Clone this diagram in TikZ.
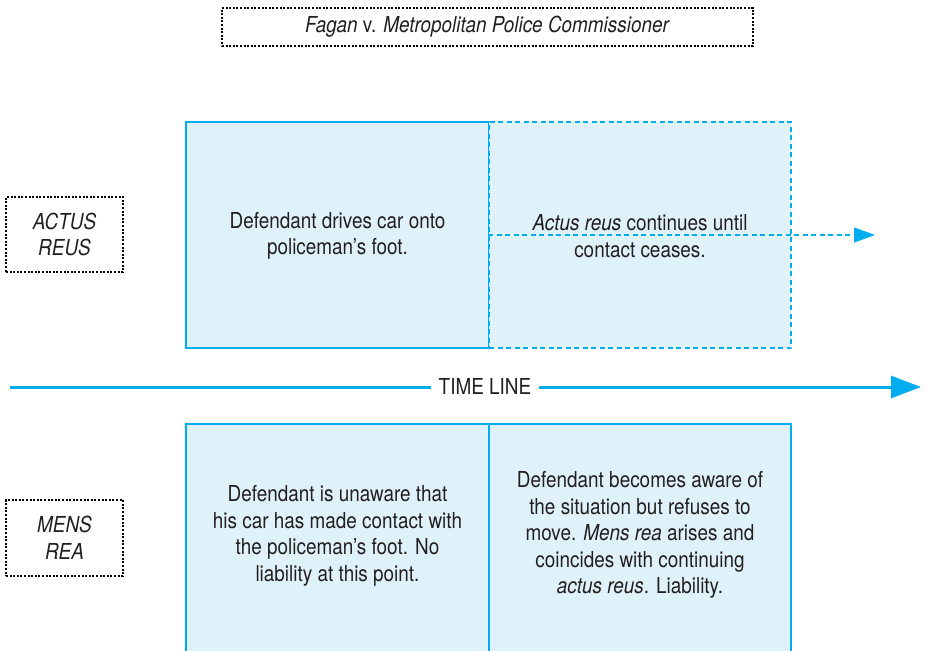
\documentclass[tikz,border=0pt]{standalone}
\usepackage{fontspec}
\setmainfont{TeX Gyre Heros}[FakeStretch=0.86]
\usetikzlibrary{arrows.meta}
\definecolor{cyanline}{HTML}{00AEEF}
\definecolor{panelfill}{HTML}{DFF2FA}
\definecolor{inktext}{HTML}{231F20}
\tikzset{
  basefont/.style={font=\fontsize{22}{26.5}\selectfont, text=inktext},
  panel/.style={draw=cyanline, fill=panelfill, line width=1.3pt, minimum height=226pt, inner sep=0pt},
  dashpanel/.style={panel, dash pattern=on 5pt off 3.5pt},
  tagbox/.style={basefont, draw=black, line width=2.2pt, dash pattern=on 2pt off 1.6pt, align=center, inner sep=0pt},
  paneltext/.style={basefont, align=center},
}
\begin{document}
\begin{tikzpicture}[x=1pt, y=-1pt]
\useasboundingbox (0,0) rectangle (925,650);

% case title
\node[tagbox, minimum width=531pt, minimum height=38pt] (title) at (487.5,27)
  {\textit{Fagan} v. \textit{Metropolitan Police Commissioner}};

% row labels
\node[tagbox, minimum width=117pt, minimum height=75pt] (actus) at (64.5,234.5)
  {\textit{ACTUS}\\\textit{REUS}};
\node[tagbox, minimum width=117pt, minimum height=76pt] (mens) at (64.5,538)
  {\textit{MENS}\\\textit{REA}};

% actus reus panels
\node[panel, minimum width=303pt] (arleft) at (337.5,235) {};
\node[dashpanel, minimum width=302pt] (arright) at (640,235) {};
\node[paneltext] (arlefttext) at (337.5,236) {Defendant drives car onto\\policeman’s foot.};
\node[paneltext] (arrighttext) at (640,236) {\textit{Actus reus} continues until\\contact ceases.};
\coordinate (arend) at (875,235);
\draw[cyanline, line width=1.3pt, dash pattern=on 5pt off 3.5pt,
  -{Triangle[length=21pt,width=15pt]}] (arright.west) -- (arend);

% time line
\coordinate (tlstart) at (10,387);
\coordinate (tlend) at (921,387);
\draw[cyanline, line width=3pt, -{Triangle[length=30pt,width=22pt]}] (tlstart) -- (tlend);
\node[basefont, fill=white, inner xsep=8pt, inner ysep=3pt] (tl) at (485,386) {TIME LINE};

% mens rea panels
\node[panel, minimum width=303pt, minimum height=232pt] (mrleft) at (337.5,540) {};
\node[panel, minimum width=302pt, minimum height=232pt] (mrright) at (640,540) {};
\node[paneltext] (mrlefttext) at (337.5,536)
  {Defendant is unaware that\\his car has made contact with\\the policeman’s foot. No\\liability at this point.};
\node[paneltext] (mrrighttext) at (640,535)
  {Defendant becomes aware of\\the situation but refuses to\\move. \textit{Mens rea} arises and\\coincides with continuing\\\textit{actus reus}. Liability.};
\end{tikzpicture}
\end{document}
